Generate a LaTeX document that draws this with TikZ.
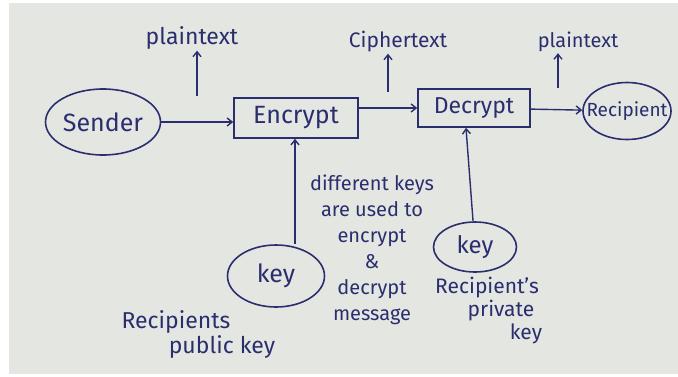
\documentclass[tikz,border=0pt]{standalone}
\usepackage{fontspec}
\setmainfont{Fira Sans}
\usetikzlibrary{arrows.meta,shapes.geometric}
\definecolor{ink}{HTML}{2B2E6E}
\definecolor{paper}{HTML}{E4E7E1}
\newcommand{\fs}[1]{\fontsize{#1}{#1}\selectfont}
\begin{document}
\begin{tikzpicture}[x=1pt,y=-1pt,
  every node/.style={text=ink},
  oval/.style={draw=ink,line width=1.6pt,ellipse,inner sep=0pt},
  boxed/.style={draw=ink,line width=1.6pt,rectangle,inner sep=0pt},
  conn/.style={draw=ink,line width=1.4pt,-{Straight Barb[length=5pt,width=8pt]}},
  lbl/.style={inner sep=1pt,align=center}]
\useasboundingbox (0,0) rectangle (678,376);
\fill[white] (0,0) rectangle (678,376);
\fill[paper] (9,3) rectangle (678,374);
% main nodes
\node[oval,minimum width=115pt,minimum height=66pt,font=\fs{25}] (sender) at (103,122) {Sender};
\node[boxed,minimum width=124pt,minimum height=40pt,font=\fs{25}] (enc) at (296,118) {Encrypt};
\node[boxed,minimum width=112pt,minimum height=38pt,font=\fs{23}] (dec) at (474,108) {Decrypt};
\node[oval,inner xsep=-16pt,minimum width=88pt,minimum height=57pt,font=\fs{19}] (rec) at (627,111) {Recipient};
\node[oval,minimum width=97pt,minimum height=62pt,font=\fs{25}] (key1) at (276,276) {key};
\node[oval,minimum width=83pt,minimum height=50pt,font=\fs{24}] (key2) at (475,247) {key};
% labels
\node[lbl,font=\fs{23}] (pt1) at (192,38) {plaintext};
\node[lbl,font=\fs{21}] (ct) at (398,42) {Ciphertext};
\node[lbl,font=\fs{20}] (pt2) at (578,42) {plaintext};
\node[lbl,font=\fontsize{20}{26}\selectfont] (note) at (372,250) {different keys\\are used to\\encrypt\\\&\\decrypt\\message};
\node[lbl,font=\fontsize{23}{25}\selectfont] (pubk) at (176,334) {Recipients\\\hspace*{92pt}public key};
\node[lbl,font=\fontsize{21}{23}\selectfont] (privk) at (487,311) {Recipient's\\\hspace*{28pt}private\\\hspace*{78pt}key};
% small arrows under labels
\coordinate (a1) at (197,96);
\coordinate (a2) at (388,92);
\coordinate (a3) at (558,88);
\draw[conn] (a1) -- (pt1.south -| a1);
\draw[conn] (a2) -- (ct.south -| a2);
\draw[conn] (a3) -- (pt2.south -| a3);
% connectors
\coordinate (x1) at (295,0);
\coordinate (x2) at (466,0);
\draw[conn] (sender) -- (enc.west |- sender);
\draw[conn] (enc.east |- dec) -- (dec);
\draw[conn] (dec) -- (rec);
\draw[conn] (key1.north -| x1) -- (enc.south -| x1);
\draw[conn] (key2) -- (dec.south -| x2);
\end{tikzpicture}
\end{document}
